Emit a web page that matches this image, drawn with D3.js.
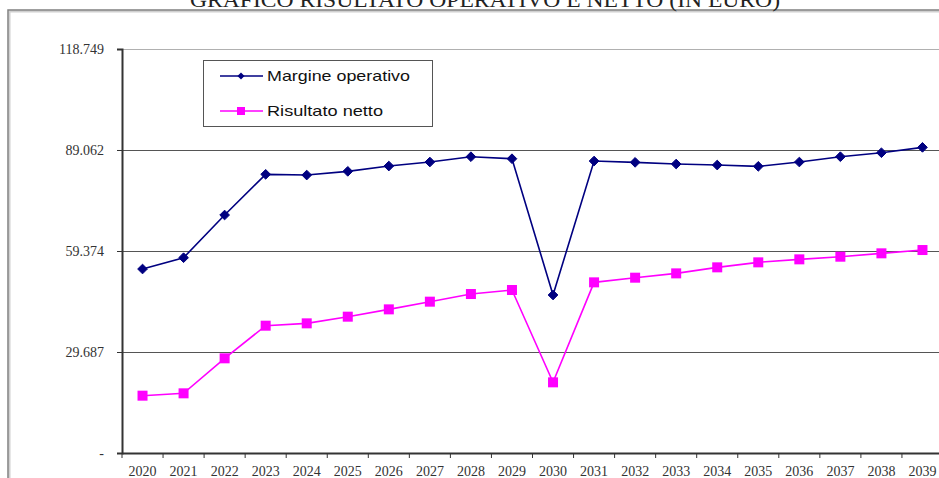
<!DOCTYPE html>
<html>
<head>
<meta charset="utf-8">
<script src="https://cdn.jsdelivr.net/npm/d3@7"></script>
<style>
html, body { margin: 0; padding: 0; background: #fff; }
svg { display: block; }
</style>
</head>
<body>
<script>
const title = "GRAFICO RISULTATO OPERATIVO E NETTO (IN EURO)";
const years = ["2020","2021","2022","2023","2024","2025","2026","2027","2028","2029",
               "2030","2031","2032","2033","2034","2035","2036","2037","2038","2039"];
const margineOperativo = [54080, 57400, 69950, 81910, 81700, 82790, 84350, 85530, 87090, 86500,
                          46440, 85820, 85430, 84940, 84640, 84260, 85530, 87090, 88260, 89840];
const risultatoNetto = [16850, 17540, 27830, 37420, 38110, 40070, 42220, 44480, 46730, 47910,
                        20770, 50160, 51530, 52800, 54570, 56040, 56920, 57700, 58690, 59660];
const yTicks = [0, 29687, 59374, 89062, 118749];
const yTickLabels = ["-", "29.687", "59.374", "89.062", "118.749"];
const seriesNames = ["Margine operativo", "Risultato netto"];

const W = 939, H = 478;
const svg = d3.select("body").append("svg").attr("width", W).attr("height", H);

// outer chart frame
svg.append("rect").attr("x", 9.5).attr("y", 11.5).attr("width", 960).attr("height", 500)
  .attr("fill", "none").attr("stroke", "#d0d0d0").attr("stroke-width", 2);
svg.append("rect").attr("x", 8).attr("y", 10).attr("width", 960).attr("height", 500)
  .attr("fill", "none").attr("stroke", "#808080").attr("stroke-width", 1.5);

// title (partially cut at top, as in the original)
svg.append("text").attr("x", 485).attr("y", 7).attr("text-anchor", "middle")
  .attr("font-family", "Liberation Serif, Times New Roman, serif").attr("font-size", 20)
  .attr("textLength", 590).attr("lengthAdjust", "spacingAndGlyphs")
  .attr("fill", "#222").text(title);

const x = d3.scaleBand().domain(years).range([122, 943]).padding(0);
const y = d3.scaleLinear().domain([0, 118749]).range([453, 49]);

// gridlines
const grid = svg.append("g");
grid.selectAll("line").data(yTicks.slice(1)).join("line")
  .attr("x1", 122).attr("x2", W).attr("y1", d => Math.round(y(d)) + 0.5).attr("y2", d => Math.round(y(d)) + 0.5)
  .attr("stroke", (d, i) => i === yTicks.length - 2 ? "#b0b0b0" : "#555").attr("stroke-width", 1);

// y axis
const yAxis = svg.append("g").attr("transform", "translate(122,0)")
  .call(d3.axisLeft(y).tickValues(yTicks).tickSize(5).tickFormat((d, i) => yTickLabels[i]).tickPadding(13));
yAxis.select(".domain").attr("stroke", "#333").attr("stroke-width", 2);
yAxis.selectAll(".tick line").attr("stroke", "#333");
yAxis.selectAll("text").attr("font-family", "Liberation Serif, Times New Roman, serif")
  .attr("font-size", 14).attr("fill", "#333");

// x axis
const xAxis = svg.append("g").attr("transform", "translate(0,453)")
  .call(d3.axisBottom(x).tickSize(0).tickPadding(13));
xAxis.select(".domain").attr("stroke", "#333").attr("stroke-width", 2);
xAxis.selectAll("text").attr("font-family", "Liberation Serif, Times New Roman, serif")
  .attr("font-size", 14).attr("fill", "#333");
// category boundary ticks
svg.append("g").selectAll("line").data(years).join("line")
  .attr("x1", d => x(d)).attr("x2", d => x(d)).attr("y1", 453).attr("y2", 458)
  .attr("stroke", "#333").attr("stroke-width", 1);

const cx = d => x(d) + x.bandwidth() / 2;

// lines
const line = d3.line().x((d, i) => cx(years[i])).y(d => y(d));
svg.append("path").datum(margineOperativo).attr("d", line)
  .attr("fill", "none").attr("stroke", "#000080").attr("stroke-width", 1.6);
svg.append("path").datum(risultatoNetto).attr("d", line)
  .attr("fill", "none").attr("stroke", "#FF00FF").attr("stroke-width", 1.6);

// markers
const diamond = d3.symbol().type(d3.symbolDiamond2).size(60);
svg.append("g").selectAll("path").data(margineOperativo).join("path")
  .attr("d", diamond).attr("transform", (d, i) => `translate(${cx(years[i])},${y(d)})`)
  .attr("fill", "#000080").attr("stroke", "#000080").attr("stroke-width", 1);
svg.append("g").selectAll("rect").data(risultatoNetto).join("rect")
  .attr("x", (d, i) => cx(years[i]) - 5).attr("y", d => y(d) - 5)
  .attr("width", 10).attr("height", 10).attr("fill", "#FF00FF");

// legend
const lg = svg.append("g");
lg.append("rect").attr("x", 203.5).attr("y", 60.5).attr("width", 229).attr("height", 66)
  .attr("fill", "#fff").attr("stroke", "#555").attr("stroke-width", 1);
const legendY = [76, 111];
const legendLen = [143, 116];
const colors = ["#000080", "#FF00FF"];
seriesNames.forEach((name, i) => {
  lg.append("line").attr("x1", 220).attr("x2", 263).attr("y1", legendY[i]).attr("y2", legendY[i])
    .attr("stroke", colors[i]).attr("stroke-width", 1.6);
  if (i === 0) {
    lg.append("path").attr("d", d3.symbol().type(d3.symbolDiamond2).size(32))
      .attr("transform", `translate(241,${legendY[i]})`).attr("fill", colors[i]);
  } else {
    lg.append("rect").attr("x", 237).attr("y", legendY[i] - 4).attr("width", 8).attr("height", 8)
      .attr("fill", colors[i]);
  }
  lg.append("text").attr("x", 267).attr("y", legendY[i] + 5)
    .attr("font-family", "Liberation Sans, Arial, sans-serif").attr("font-size", 15)
    .attr("textLength", legendLen[i]).attr("lengthAdjust", "spacingAndGlyphs")
    .attr("fill", "#111").text(name);
});
</script>
</body>
</html>
